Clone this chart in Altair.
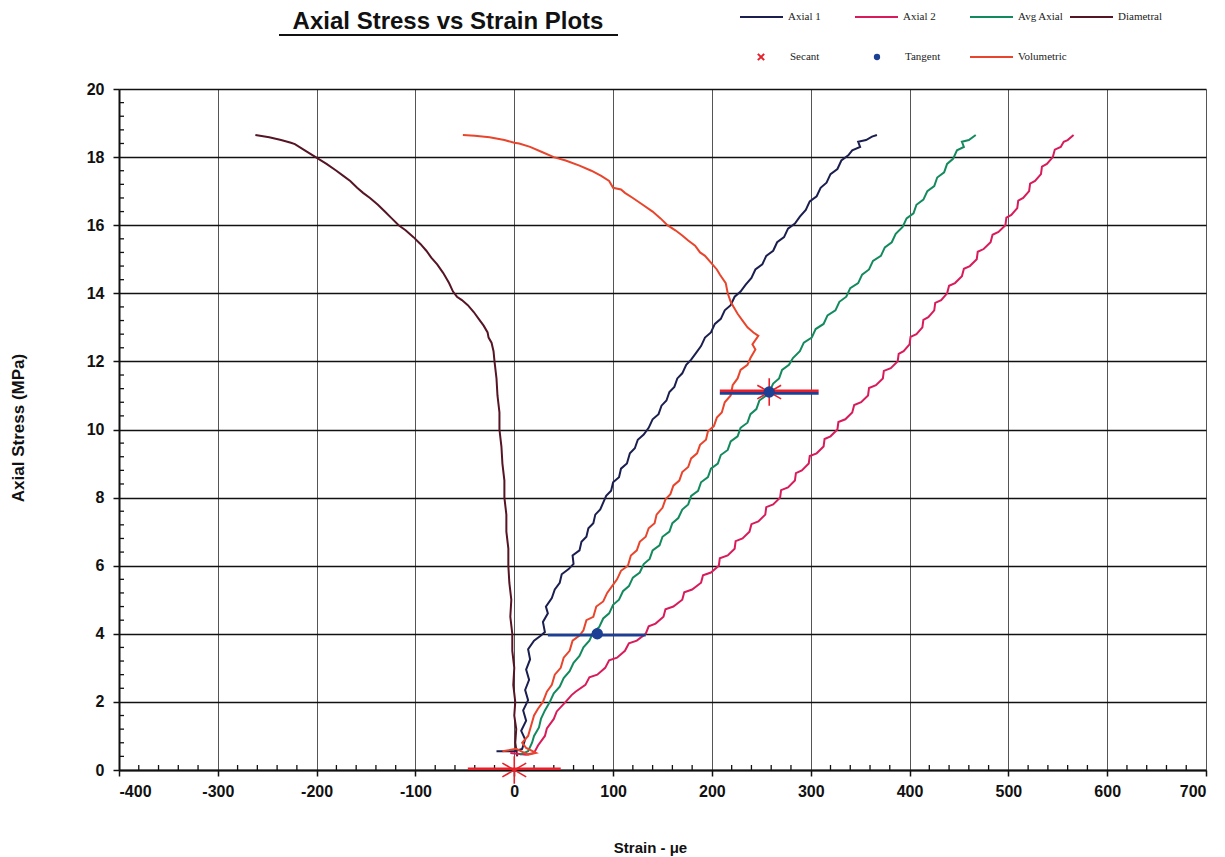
import altair as alt
import pandas as pd

# ---------------- data (strain in micro-strain, stress in MPa) ----------------
axial1 = [(-18,0.55),(0,0.55),(8,0.62),(11,0.9),(7,1.15),(12,1.45),(9,1.75),(14,2.05),(11,2.35),(15,2.65),
          (12,2.95),(16,3.25),(14,3.55),(20,3.8),(27,3.95),(31,4.05),(29,4.35),(34,4.6),(32,4.8),(38,5.05),
          (41,5.3),(46,5.5),(48,5.75),(55,5.9),(60,6.05),(59,6.3),(66,6.45),(68,6.7),(73,6.85),(75,7.1),
          (80,7.25),(82,7.5),(87,7.65),(90,7.85),(93,8.05),(98,8.2),(100,8.45),(106,8.6),(108,8.85),(114,9.0),
          (117,9.3),(122,9.45),(125,9.7),(131,9.85),(136,10.05),(140,10.3),(146,10.45),(149,10.7),(154,10.85),
          (157,11.1),(162,11.25),(165,11.5),(170,11.65),(174,11.9),(179,12.05),(184,12.25),(189,12.45),
          (193,12.7),(199,12.85),(203,13.1),(209,13.25),(213,13.5),(219,13.65),(223,13.9),(229,14.05),
          (234,14.25),(240,14.45),(244,14.7),(251,14.85),(255,15.1),(262,15.25),(266,15.5),(273,15.65),
          (277,15.9),(284,16.05),(289,16.25),(295,16.45),(299,16.7),(306,16.85),(310,17.1),(316,17.25),
          (320,17.5),(327,17.65),(331,17.9),(338,18.05),(342,18.2),(350,18.3),(348,18.45),(356,18.5),
          (362,18.6),(367,18.65)]

axial2 = [(-4,0.5),(12,0.45),(20,0.5),(24,0.72),(31,1.0),(33,1.22),(40,1.5),(43,1.72),(52,2.0),(58,2.2),
          (62,2.3),(72,2.5),(76,2.72),(84,2.8),(92,3.0),(96,3.22),(104,3.3),(112,3.5),(116,3.72),(124,3.8),
          (133,4.0),(136,4.22),(143,4.3),(151,4.5),(153,4.72),(161,4.8),(170,5.0),(172,5.22),(180,5.3),
          (189,5.5),(191,5.72),(199,5.8),(207,6.0),(208,6.22),(216,6.3),(223,6.5),(224,6.72),(231,6.8),
          (238,7.0),(240,7.22),(247,7.3),(254,7.5),(255,7.72),(262,7.8),(269,8.0),(270,8.22),(277,8.3),
          (284,8.5),(285,8.72),(291,8.8),(298,9.0),(299,9.22),(306,9.3),(313,9.5),(314,9.72),(320,9.8),
          (327,10.0),(328,10.22),(335,10.3),(342,10.5),(344,10.72),(351,10.8),(358,11.0),(359,11.22),
          (366,11.3),(373,11.5),(374,11.72),(381,11.8),(388,12.0),(389,12.22),(394,12.3),(400,12.5),
          (401,12.72),(407,12.8),(413,13.0),(414,13.22),(419,13.3),(425,13.5),(426,13.72),(432,13.8),
          (438,14.0),(440,14.22),(446,14.3),(453,14.5),(455,14.72),(461,14.8),(468,15.0),(469,15.22),
          (475,15.3),(482,15.5),(484,15.72),(490,15.8),(497,16.0),(498,16.22),(503,16.3),(509,16.5),
          (510,16.72),(515,16.8),(521,17.0),(522,17.22),(527,17.3),(533,17.5),(534,17.72),(539,17.8),
          (545,18.0),(547,18.22),(553,18.3),(556,18.45),(560,18.5),(566,18.65)]

avg_axial = [(6,0.45),(14,0.55),(18,0.8),(20,1.0),(25,1.25),(27,1.5),(31,1.75),(36,2.0),(40,2.25),(46,2.45),
             (50,2.7),(56,2.9),(60,3.15),(66,3.35),(70,3.6),(76,3.8),(80,4.05),(86,4.2),(90,4.45),(96,4.6),
             (100,4.85),(106,5.0),(110,5.25),(116,5.4),(120,5.65),(127,5.8),(131,6.05),(137,6.2),(140,6.45),
             (147,6.6),(150,6.85),(157,7.0),(160,7.25),(166,7.4),(170,7.65),(176,7.8),(179,8.05),(186,8.2),
             (189,8.45),(196,8.6),(199,8.85),(206,9.0),(209,9.25),(216,9.4),(219,9.65),(226,9.8),(229,10.05),
             (236,10.2),(239,10.45),(245,10.6),(248,10.85),(255,11.0),(258,11.1),(262,11.35),(268,11.5),
             (271,11.75),(278,11.9),(282,12.1),(289,12.3),(293,12.55),(301,12.7),(305,12.95),(313,13.1),
             (317,13.35),(325,13.5),(329,13.75),(336,13.9),(340,14.15),(348,14.3),(352,14.55),(359,14.7),
             (363,14.95),(371,15.1),(375,15.35),(382,15.5),(386,15.75),(393,15.95),(397,16.2),(404,16.35),
             (407,16.6),(414,16.75),(418,17.0),(425,17.15),(428,17.4),(435,17.55),(438,17.8),(444,17.95),
             (448,18.2),(455,18.3),(453,18.45),(460,18.5),(467,18.65)]

diametral = [(3,0.4),(1,0.8),(2,1.2),(0,1.6),(1,2.0),(-1,2.5),(0,3.0),(-2,3.5),(-2,4.0),(-4,4.5),(-3,5.0),
             (-5,5.5),(-6,6.0),(-6,6.5),(-8,7.0),(-8,7.5),(-10,8.0),(-10,8.5),(-12,9.0),(-13,9.5),(-15,10.0),
             (-15,10.5),(-17,11.0),(-18,11.5),(-20,12.0),(-21,12.3),(-23,12.55),(-26,12.7),(-27,12.85),
             (-31,13.05),(-36,13.25),(-41,13.45),(-47,13.65),(-53,13.8),(-58,13.9),(-62,14.05),(-66,14.3),
             (-72,14.6),(-78,14.85),(-84,15.05),(-89,15.25),(-95,15.45),(-102,15.65),(-110,15.85),(-117,16.0),
             (-124,16.2),(-131,16.4),(-138,16.6),(-146,16.8),(-153,16.95),(-159,17.1),(-166,17.3),(-173,17.45),
             (-180,17.6),(-190,17.8),(-201,18.0),(-212,18.2),(-222,18.38),(-226,18.42),(-236,18.5),
             (-248,18.58),(-262,18.65)]

volumetric = [(-12,0.55),(2,0.62),(14,0.45),(22,0.5),(12,0.65),(8,0.8),(14,1.0),(17,1.3),(20,1.6),(24,1.8),
              (29,2.0),(33,2.3),(38,2.5),(41,2.8),(47,3.0),(50,3.3),(56,3.5),(59,3.8),(66,3.95),(70,4.1),
              (73,4.4),(80,4.5),(83,4.8),(90,4.95),(94,5.2),(99,5.4),(104,5.6),(108,5.85),(115,6.0),(118,6.3),
              (124,6.45),(127,6.7),(133,6.85),(136,7.1),(142,7.25),(144,7.5),(150,7.7),(153,7.95),(158,8.1),
              (161,8.35),(167,8.5),(170,8.75),(176,8.9),(179,9.15),(185,9.3),(188,9.55),(194,9.7),(196,9.95),
              (202,10.1),(205,10.35),(210,10.5),(213,10.8),(219,11.0),(221,11.3),(226,11.5),(229,11.75),
              (236,11.9),(239,12.1),(244,12.35),(241,12.5),(247,12.75),(242,12.85),(236,13.0),(231,13.2),
              (226,13.4),(222,13.6),(219,13.75),(216,14.0),(214,14.3),(208,14.55),(205,14.7),(199,14.9),
              (193,15.1),(188,15.2),(183,15.4),(176,15.55),(170,15.7),(163,15.85),(155,16.0),(148,16.2),
              (140,16.4),(130,16.6),(120,16.8),(112,16.95),(108,17.05),(100,17.1),(96,17.3),(88,17.45),
              (78,17.6),(66,17.75),(52,17.9),(40,18.0),(28,18.15),(16,18.3),(5,18.4),(0,18.42),(-10,18.5),
              (-25,18.58),(-40,18.63),(-52,18.65)]

secant_strain = [0, 258]
secant_stress = [0, 11.1]
secant_lo = [-47, 208]
secant_hi = [47, 308]
tangent_strain = [84, 258]
tangent_stress = [4, 11.1]
tangent_lo = [34, 208]
tangent_hi = [133, 308]

x_ticks = [-400, -300, -200, -100, 0, 100, 200, 300, 400, 500, 600, 700]
y_ticks = [0, 2, 4, 6, 8, 10, 12, 14, 16, 18, 20]

series_names = ["Diametral", "Axial 1", "Axial 2", "Avg Axial", "Volumetric"]
series_colors = ["#561525", "#1b1f4f", "#d81b5b", "#138a5e", "#e8452c"]
series_data = [diametral, axial1, axial2, avg_axial, volumetric]

SECANT = "#e8202a"
TANGENT = "#1d3f94"

# ---------------- tables ----------------
rows = []
for name, pts in zip(series_names, series_data):
    for i, (sx, sy) in enumerate(pts):
        rows.append({"series": name, "strain": sx, "stress": sy, "idx": i})
curves = pd.DataFrame(rows)

sec_df = pd.DataFrame({"strain": secant_strain, "stress": secant_stress, "lo": secant_lo, "hi": secant_hi})
tan_df = pd.DataFrame({"strain": tangent_strain, "stress": tangent_stress, "lo": tangent_lo, "hi": tangent_hi})

minor_x = [v for v in range(-400, 701, 20) if v % 100 != 0]
minor_y = [round(k * 0.4, 1) for k in range(0, 51) if k % 5 != 0]
mx_df = pd.DataFrame({"v": minor_x})
my_df = pd.DataFrame({"v": minor_y})

W, H = 1087, 681
xscale = alt.Scale(domain=[-400, 700], nice=False, zero=False)
yscale = alt.Scale(domain=[0, 20], nice=False, zero=False)

X = alt.X("strain:Q", scale=xscale,
          axis=alt.Axis(values=x_ticks, labelExpr="'' + datum.value", title="Strain - \u03bce",
                        titleX=531, titleY=77, titleBaseline="middle",
                        gridColor="#555555", gridWidth=1, labelPadding=7))
Y = alt.Y("stress:Q", scale=yscale,
          axis=alt.Axis(values=y_ticks, labelExpr="'' + datum.value", title="Axial Stress (MPa)",
                        titleX=-101, titleY=H / 2 - 2, titleBaseline="middle", titleAngle=-90,
                        titleFontSize=17,
                        gridColor="#111111", gridWidth=1.4, labelPadding=9))

color = alt.Color("series:N", scale=alt.Scale(domain=series_names, range=series_colors), legend=None)

lines = alt.Chart(curves).mark_line(strokeWidth=2, interpolate="linear").encode(
    x=X, y=Y, color=color, order="idx:Q", detail="series:N")

tan_bar = alt.Chart(tan_df).mark_rule(color=TANGENT, strokeWidth=2.6, yOffset=1.3).encode(
    x=alt.X("lo:Q", scale=xscale), x2="hi:Q", y=alt.Y("stress:Q", scale=yscale))
sec_bar = alt.Chart(sec_df).mark_rule(color=SECANT, strokeWidth=2.4, yOffset=-1.3).encode(
    x=alt.X("lo:Q", scale=xscale), x2="hi:Q", y=alt.Y("stress:Q", scale=yscale))

star_path = "M0,-1L0,1M-0.87,-0.5L0.87,0.5M-0.87,0.5L0.87,-0.5"
sec_pts = alt.Chart(sec_df).mark_point(shape=star_path, size=750, filled=False, color=SECANT,
                                       strokeWidth=1.6, opacity=1).encode(
    x=alt.X("strain:Q", scale=xscale), y=alt.Y("stress:Q", scale=yscale))
tan_pts = alt.Chart(tan_df).mark_point(shape="circle", size=130, filled=True, color=TANGENT, opacity=1).encode(
    x=alt.X("strain:Q", scale=xscale), y=alt.Y("stress:Q", scale=yscale))

minor_xt = alt.Chart(mx_df).mark_rule(color="#111111", strokeWidth=1.3).encode(
    x=alt.X("v:Q", scale=xscale), y=alt.value(H), y2=alt.value(H - 5))
minor_yt = alt.Chart(my_df).mark_rule(color="#111111", strokeWidth=1.3).encode(
    y=alt.Y("v:Q", scale=yscale), x=alt.value(0), x2=alt.value(5))

# ---------------- title and legend (outside plot area) ----------------
one = pd.DataFrame({"k": [0]})
deco = []
deco.append(alt.Chart(one).mark_text(text="Axial Stress vs Strain Plots", font="Liberation Sans",
                                     fontSize=24, fontWeight="bold", align="center", baseline="middle",
                                     color="#111111")
            .encode(x=alt.value(329), y=alt.value(-67)))
deco.append(alt.Chart(one).mark_rule(color="#111111", strokeWidth=2)
            .encode(x=alt.value(160), x2=alt.value(499), y=alt.value(-54)))

legend_row1 = [("Axial 1", "#1b1f4f", 621), ("Axial 2", "#d81b5b", 736),
               ("Avg Axial", "#138a5e", 851), ("Diametral", "#561525", 951)]
for label, col, x0 in legend_row1:
    deco.append(alt.Chart(one).mark_rule(color=col, strokeWidth=2.2)
                .encode(x=alt.value(x0), x2=alt.value(x0 + 43), y=alt.value(-72)))
    deco.append(alt.Chart(one).mark_text(text=label, font="Liberation Serif", fontSize=11, align="left",
                                         baseline="middle", color="#222222")
                .encode(x=alt.value(x0 + 48), y=alt.value(-72)))

deco.append(alt.Chart(one).mark_point(shape="M-1,-1L1,1M1,-1L-1,1", size=40, filled=False, color=SECANT,
                                      strokeWidth=2, opacity=1)
            .encode(x=alt.value(642), y=alt.value(-32)))
deco.append(alt.Chart(one).mark_text(text="Secant", font="Liberation Serif", fontSize=11, align="left",
                                     baseline="middle", color="#222222")
            .encode(x=alt.value(671), y=alt.value(-32)))
deco.append(alt.Chart(one).mark_point(shape="circle", size=40, filled=True, color=TANGENT, opacity=1)
            .encode(x=alt.value(758), y=alt.value(-32)))
deco.append(alt.Chart(one).mark_text(text="Tangent", font="Liberation Serif", fontSize=11, align="left",
                                     baseline="middle", color="#222222")
            .encode(x=alt.value(786), y=alt.value(-32)))
deco.append(alt.Chart(one).mark_rule(color="#e8452c", strokeWidth=2.2)
            .encode(x=alt.value(851), x2=alt.value(894), y=alt.value(-32)))
deco.append(alt.Chart(one).mark_text(text="Volumetric", font="Liberation Serif", fontSize=11, align="left",
                                     baseline="middle", color="#222222")
            .encode(x=alt.value(899), y=alt.value(-32)))

chart = alt.layer(lines, minor_xt, minor_yt, tan_bar, sec_bar, sec_pts, tan_pts, *deco).properties(
    width=W, height=H,
    autosize=alt.AutoSizeParams(type="none"),
    padding={"left": 111, "top": 81, "right": 11, "bottom": 87},
    background="white",
).configure_view(stroke=None).configure_axis(
    labelFont="Liberation Sans", labelFontSize=16, labelFontWeight="bold", labelColor="#111111",
    titleFont="Liberation Sans", titleFontSize=15, titleFontWeight="bold", titleColor="#111111",
    domainColor="#111111", domainWidth=2, tickColor="#111111", tickSize=6, tickWidth=1.5,
    grid=True,
)

chart.save("out.html", embed_options={"renderer": "svg", "actions": False})
